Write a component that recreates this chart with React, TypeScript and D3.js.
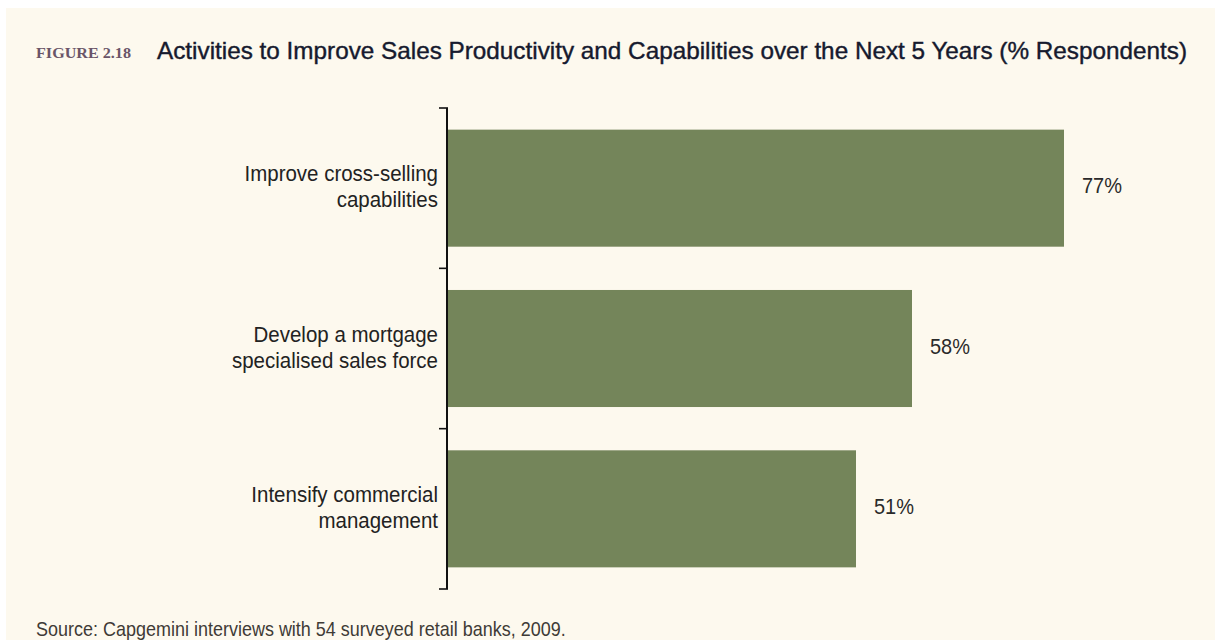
import React from "react";
import * as d3 from "d3";

const categories: string[][] = [
  ["Improve cross-selling", "capabilities"],
  ["Develop a mortgage", "specialised sales force"],
  ["Intensify commercial", "management"],
];
const values: number[] = [77, 58, 51];
const valueLabels: string[] = ["77%", "58%", "51%"];
const figureLabel = "FIGURE 2.18";
const title =
  "Activities to Improve Sales Productivity and Capabilities over the Next 5 Years (% Respondents)";
const source = "Source: Capgemini interviews with 54 surveyed retail banks, 2009.";

const W = 1215;
const H = 640;

export default function App() {
  const keys = categories.map((_, i) => String(i));
  const y = d3
    .scaleBand<string>()
    .domain(keys)
    .range([108, 589])
    .paddingInner(0.27)
    .paddingOuter(0.135);
  const x = d3.scaleLinear().domain([0, 100]).range([448, 1248]);
  const step = y.step();
  const tickYs = keys
    .map((k) => (y(k) as number) - (step * y.paddingInner()) / 2)
    .concat([(y(keys[keys.length - 1]) as number) + y.bandwidth() + (step * y.paddingInner()) / 2]);
  const axisX = 447;
  const sans = "'Liberation Sans', Arial, Helvetica, sans-serif";
  const squeeze = 0.92;

  return (
    <div style={{ position: "absolute", left: 0, top: 0, width: W, height: H }}>
      <svg width={W} height={H} style={{ display: "block" }}>
        <rect x={0} y={0} width={W} height={H} fill="#ffffff" />
        <rect x={6} y={8} width={W - 6} height={H - 8} fill="#fdf9ee" />
        <text
          x={36}
          y={58}
          fontFamily="'Liberation Serif', 'Times New Roman', serif"
          fontSize={15}
          fontWeight="bold"
          fill="#6a5568"
          textLength={95}
          lengthAdjust="spacingAndGlyphs"
        >
          {figureLabel}
        </text>
        <text
          x={157}
          y={59}
          fontFamily={sans}
          fontSize={24}
          fill="#161a2e"
          stroke="#161a2e"
          strokeWidth={0.4}
          textLength={1030}
          lengthAdjust="spacingAndGlyphs"
        >
          {title}
        </text>
        {categories.map((lines, i) => {
          const k = keys[i];
          const y0 = y(k) as number;
          const cy = y0 + y.bandwidth() / 2;
          return (
            <g key={k}>
              <rect x={x(0)} y={y0} width={x(values[i]) - x(0)} height={y.bandwidth()} fill="#74855a" />
              <g transform={`translate(438,${cy}) scale(${squeeze},1)`}>
                <text x={0} y={-7} textAnchor="end" fontFamily={sans} fontSize={20.5 / squeeze} fill="#222222">
                  {lines[0]}
                </text>
                <text x={0} y={19} textAnchor="end" fontFamily={sans} fontSize={20.5 / squeeze} fill="#222222">
                  {lines[1]}
                </text>
              </g>
              <g transform={`translate(${x(values[i]) + 18},${cy + 5}) scale(${squeeze},1)`}>
                <text x={0} y={0} fontFamily={sans} fontSize={20 / squeeze} fill="#2a2a2a">
                  {valueLabels[i]}
                </text>
              </g>
            </g>
          );
        })}
        <line x1={axisX} x2={axisX} y1={tickYs[0]} y2={tickYs[tickYs.length - 1]} stroke="#111" strokeWidth={2} />
        {tickYs.map((ty, i) => (
          <line key={i} x1={axisX - 8} x2={axisX + 1} y1={ty} y2={ty} stroke="#111" strokeWidth={1.6} />
        ))}
        <g transform={`translate(36,636) scale(${squeeze},1)`}>
          <text x={0} y={0} fontFamily={sans} fontSize={18 / squeeze} fill="#3f3b36">
            {source}
          </text>
        </g>
      </svg>
    </div>
  );
}
